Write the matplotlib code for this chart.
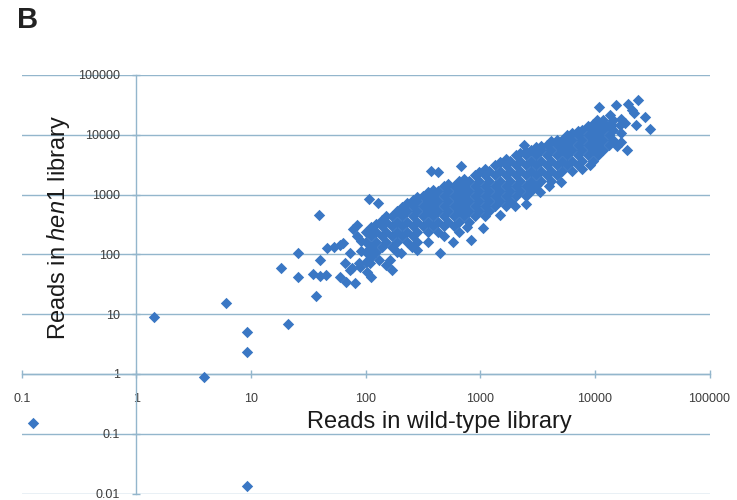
import numpy as np
import matplotlib
matplotlib.use('Agg')
from matplotlib import pyplot as plt

plt.rcParams['font.family'] = ['Liberation Sans', 'DejaVu Sans']
plt.rcParams['mathtext.fontset'] = 'custom'
plt.rcParams['mathtext.rm'] = 'Liberation Sans'
plt.rcParams['mathtext.it'] = 'Liberation Sans:italic'

# read counts per small RNA, stored as log10(reads)
# x = wild-type library, y = hen1 library
wt_log10 = [
    # low-count reads
    -0.90, 0.15, 0.59, 0.78, 0.96, 0.96, 0.96, 1.32, 1.26, 1.41, 1.41,
    # lower left tail of the band
    1.59, 1.57, 1.54, 1.60, 1.65, 1.66, 1.72, 1.78, 1.60, 1.78, 1.83,
    1.91, 1.82, 1.88, 1.95, 2.01, 2.05, 2.12, 2.18, 2.23, 1.89, 1.92,
    1.80, 1.86, 1.94, 1.86, 2.04, 2.21, 2.31, 2.40, 1.92, 1.96, 1.96,
    # band edges
    2.45, 2.65, 2.76, 2.92, 3.02, 2.88, 3.17, 3.30, 3.40, 3.52, 3.60,
    3.70, 3.89, 3.96, 2.57, 2.63, 2.83, 2.03, 2.11, 3.38,
    # top right group
    4.04, 4.02, 4.18, 4.29, 4.38, 4.32, 4.44, 4.48, 4.23, 4.26, 4.13,
    4.15, 4.36, 4.23, 4.28, 4.19, 4.34, 4.22, 4.23, 4.10,
    # main band
    2.00, 2.00, 2.00, 2.00,
    2.05, 2.05, 2.05, 2.05,
    2.09, 2.09, 2.09, 2.09,
    2.14, 2.14, 2.14, 2.14,
    2.18, 2.18, 2.18, 2.18,
    2.23, 2.23, 2.23, 2.23,
    2.27, 2.27, 2.27, 2.27, 2.27,
    2.32, 2.32, 2.32, 2.32,
    2.36, 2.36, 2.36, 2.36, 2.36,
    2.41, 2.41, 2.41, 2.41, 2.41,
    2.45, 2.45, 2.45, 2.45, 2.45, 2.45,
    2.50, 2.50, 2.50, 2.50,
    2.54, 2.54, 2.54, 2.54, 2.54, 2.54,
    2.59, 2.59, 2.59, 2.59, 2.59,
    2.63, 2.63, 2.63, 2.63, 2.63,
    2.68, 2.68, 2.68, 2.68, 2.68, 2.68,
    2.72, 2.72, 2.72, 2.72, 2.72,
    2.77, 2.77, 2.77, 2.77, 2.77,
    2.81, 2.81, 2.81, 2.81, 2.81, 2.81,
    2.86, 2.86, 2.86, 2.86, 2.86,
    2.90, 2.90, 2.90, 2.90, 2.90,
    2.95, 2.95, 2.95, 2.95, 2.95,
    2.99, 2.99, 2.99, 2.99, 2.99,
    3.04, 3.04, 3.04, 3.04, 3.04, 3.04,
    3.08, 3.08, 3.08, 3.08, 3.08,
    3.13, 3.13, 3.13, 3.13, 3.13,
    3.17, 3.17, 3.17, 3.17, 3.17,
    3.22, 3.22, 3.22, 3.22, 3.22, 3.22,
    3.26, 3.26, 3.26, 3.26, 3.26,
    3.31, 3.31, 3.31, 3.31, 3.31,
    3.35, 3.35, 3.35, 3.35, 3.35,
    3.40, 3.40, 3.40, 3.40, 3.40, 3.40,
    3.44, 3.44, 3.44, 3.44, 3.44,
    3.49, 3.49, 3.49, 3.49, 3.49,
    3.53, 3.53, 3.53, 3.53, 3.53,
    3.58, 3.58, 3.58, 3.58,
    3.62, 3.62, 3.62, 3.62, 3.62,
    3.67, 3.67, 3.67, 3.67, 3.67,
    3.71, 3.71, 3.71, 3.71,
    3.76, 3.76, 3.76, 3.76,
    3.80, 3.80, 3.80, 3.80, 3.80,
    3.85, 3.85, 3.85, 3.85, 3.85,
    3.89, 3.89, 3.89, 3.89,
    3.94, 3.94, 3.94, 3.94,
    3.98, 3.98, 3.98, 3.98, 3.98,
    4.03, 4.03, 4.03, 4.03,
    4.07, 4.07, 4.07, 4.07,
    4.12, 4.12, 4.12,
    4.16, 4.16, 4.16,
]
hen1_log10 = [
    -0.82, 0.96, -0.05, 1.19, 0.71, 0.37, -1.87, 0.84, 1.78, 2.03, 1.62,
    2.66, 1.30, 1.68, 1.64, 1.66, 2.10, 2.13, 2.16, 1.91, 1.63, 1.54,
    1.52, 1.85, 1.77, 1.79, 1.71, 1.63, 1.91, 1.82, 1.74, 2.42, 2.49,
    2.19, 2.02, 1.85, 1.74, 1.85, 1.91, 2.02, 2.13, 2.30, 2.22, 2.05,
    2.07, 2.02, 2.21, 2.24, 2.44, 2.46, 2.66, 2.81, 2.85, 3.05, 3.15,
    3.21, 3.42, 3.50, 3.40, 3.37, 3.48, 2.92, 2.86, 3.83,
    4.46, 4.24, 4.49, 4.52, 4.58, 4.41, 4.30, 4.10, 4.27, 4.19, 4.33,
    4.16, 4.16, 3.88, 3.74, 3.82, 4.36, 4.16, 4.03, 4.14,
    1.87, 2.04, 2.21, 2.38,
    1.96, 2.13, 2.30, 2.45,
    2.04, 2.21, 2.38, 2.51,
    2.13, 2.30, 2.47, 2.57,
    2.21, 2.38, 2.55, 2.64,
    2.13, 2.30, 2.47, 2.64,
    2.04, 2.21, 2.38, 2.55, 2.72,
    2.30, 2.47, 2.64, 2.80,
    2.21, 2.38, 2.55, 2.72, 2.86,
    2.30, 2.47, 2.64, 2.81, 2.91,
    2.21, 2.38, 2.55, 2.72, 2.89, 2.96,
    2.47, 2.64, 2.81, 2.98,
    2.21, 2.38, 2.55, 2.72, 2.89, 3.05,
    2.47, 2.64, 2.81, 2.98, 3.08,
    2.38, 2.55, 2.72, 2.89, 3.06,
    2.30, 2.47, 2.64, 2.81, 2.98, 3.14,
    2.55, 2.72, 2.89, 3.06, 3.17,
    2.47, 2.64, 2.81, 2.98, 3.15,
    2.38, 2.55, 2.72, 2.89, 3.06, 3.23,
    2.64, 2.81, 2.98, 3.15, 3.26,
    2.55, 2.72, 2.89, 3.06, 3.23,
    2.64, 2.81, 2.98, 3.15, 3.32,
    2.72, 2.89, 3.06, 3.23, 3.38,
    2.64, 2.81, 2.98, 3.15, 3.32, 3.42,
    2.72, 2.89, 3.06, 3.23, 3.40,
    2.81, 2.98, 3.15, 3.32, 3.49,
    2.89, 3.06, 3.23, 3.40, 3.55,
    2.81, 2.98, 3.15, 3.32, 3.49, 3.59,
    2.89, 3.06, 3.23, 3.40, 3.57,
    2.98, 3.15, 3.32, 3.49, 3.66,
    3.06, 3.23, 3.40, 3.57, 3.70,
    2.98, 3.15, 3.32, 3.49, 3.66, 3.73,
    3.06, 3.23, 3.40, 3.57, 3.74,
    3.15, 3.32, 3.49, 3.66, 3.79,
    3.23, 3.40, 3.57, 3.74, 3.82,
    3.32, 3.49, 3.66, 3.83,
    3.23, 3.40, 3.57, 3.74, 3.89,
    3.32, 3.49, 3.66, 3.83, 3.92,
    3.40, 3.57, 3.74, 3.91,
    3.49, 3.66, 3.83, 4.00,
    3.40, 3.57, 3.74, 3.91, 4.03,
    3.49, 3.66, 3.83, 4.00, 4.07,
    3.57, 3.74, 3.91, 4.08,
    3.66, 3.83, 4.00, 4.14,
    3.57, 3.74, 3.91, 4.08, 4.18,
    3.66, 3.83, 4.00, 4.17,
    3.74, 3.91, 4.08, 4.25,
    3.83, 4.00, 4.17,
    3.91, 4.08, 4.25,
]

x_ticks = [0.1, 1, 10, 100, 1000, 10000, 100000]
x_tick_labels = ['0.1', '1', '10', '100', '1000', '10000', '100000']
y_ticks = [0.01, 0.1, 1, 10, 100, 1000, 10000, 100000]
y_tick_labels = ['0.01', '0.1', '1', '10', '100', '1000', '10000', '100000']

wt_reads = 10 ** np.array(wt_log10)
hen1_reads = 10 ** np.array(hen1_log10)

grid_c = '#93b6cc'
dot_c = '#3a77c4'
text_c = '#3c3c3c'

fig = plt.figure(figsize=(7.37, 5), dpi=100)
ax = fig.add_axes([0.0297, 0.0128, 0.9330, 0.8372])
ax.set_xscale('log')
ax.set_yscale('log')
ax.set_xlim(0.1, 100000)
ax.set_ylim(0.01, 100000)

# axes cross at (1, 1)
for side in ['top', 'right']:
    ax.spines[side].set_visible(False)
ax.spines['left'].set_position(('data', 1))
ax.spines['bottom'].set_position(('data', 1))
for side in ['left', 'bottom']:
    ax.spines[side].set_color(grid_c)
    ax.spines[side].set_linewidth(1)

ax.yaxis.grid(True, color=grid_c, linewidth=1)
ax.set_axisbelow(True)

ax.set_xticks(x_ticks)
ax.set_xticklabels(x_tick_labels)
ax.set_yticks(y_ticks)
ax.set_yticklabels(y_tick_labels)
ax.minorticks_off()
ax.tick_params(axis='x', direction='inout', length=6, width=1, color=grid_c,
               pad=11, labelsize=9, labelcolor=text_c)
ax.tick_params(axis='y', direction='inout', length=6, width=1, color=grid_c,
               pad=9, labelsize=9, labelcolor=text_c)

# scatter (path collection) keeps sub-pixel positions, so the dense band closes up
ax.scatter(wt_reads, hen1_reads, marker='D', s=5.8 ** 2, linewidths=0,
           color=dot_c, clip_on=False, zorder=3)

fig.text(439.5 / 737, 1 - 428 / 500, 'Reads in wild-type library',
         ha='center', va='baseline', fontsize=17, color='#1a1a1a')
fig.text(64.5 / 737, 1 - 340 / 500, 'Reads in $\\mathit{hen1}$ library',
         rotation=90, rotation_mode='anchor', ha='left', va='baseline',
         fontsize=17, color='#1a1a1a')
fig.text(17 / 737, 1 - 28.3 / 500, 'B', ha='left', va='baseline',
         fontsize=21, fontweight='bold', color='#222222')

fig.savefig('out.png', dpi=100)
